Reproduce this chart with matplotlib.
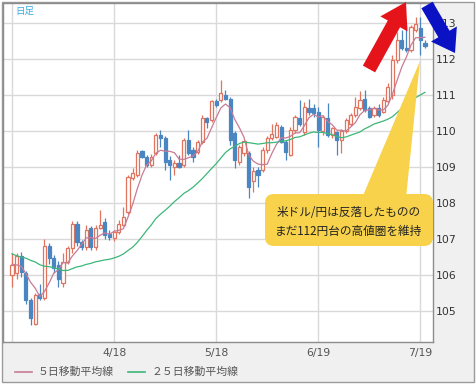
import matplotlib
matplotlib.use('Agg')
import matplotlib.pyplot as plt
import numpy as np
import pandas as pd
from matplotlib.patches import Rectangle, FancyBboxPatch, Polygon, FancyArrow
from matplotlib.lines import Line2D

# ---- data (USD/JPY daily candles, 2018-03-19 .. 2018-07-20) ----
opens = [106.00, 106.06, 106.53, 106.06, 105.31, 104.65, 105.47, 105.36, 106.80, 106.47,
         106.28, 105.77, 106.37, 106.74, 107.43, 106.93, 106.79, 107.30, 106.79, 107.30,
         107.48, 107.15, 107.02, 107.20, 107.40, 107.76, 108.70, 108.78, 109.44, 109.29,
         109.06, 109.38, 109.89, 109.80, 109.19, 109.00, 109.10, 109.05, 109.75, 109.47,
         109.43, 109.70, 110.35, 110.30, 110.82, 110.86, 111.00, 110.90, 109.94, 109.15,
         109.38, 109.38, 108.60, 108.92, 108.92, 109.47, 109.80, 109.84, 110.12, 109.70,
         109.33, 110.03, 110.35, 109.98, 110.63, 110.63, 110.54, 110.00, 110.35, 109.89,
         109.98, 109.75, 110.00, 110.20, 110.44, 110.63, 110.90, 110.63, 110.44, 110.63,
         110.54, 110.82, 110.99, 111.97, 112.53, 112.30, 112.25, 112.80, 112.85, 112.45]
highs = [106.60, 106.62, 106.65, 106.12, 105.35, 105.50, 105.75, 107.00, 106.90, 106.55,
         106.40, 106.60, 106.80, 107.50, 107.50, 106.98, 107.40, 107.35, 107.40, 107.80,
         107.57, 107.25, 107.25, 107.52, 107.90, 108.78, 108.96, 109.47, 109.47, 109.33,
         109.35, 109.94, 110.03, 109.85, 109.30, 109.20, 109.33, 109.80, 110.03, 109.56,
         109.75, 110.44, 110.40, 110.86, 110.90, 111.42, 111.15, 110.95, 110.00, 109.60,
         109.75, 109.45, 109.00, 109.00, 109.55, 109.85, 110.20, 110.26, 110.17, 109.75,
         110.10, 110.45, 110.86, 110.80, 110.90, 110.75, 110.68, 110.45, 110.77, 110.10,
         110.00, 110.05, 110.35, 110.50, 110.95, 111.10, 111.13, 110.70, 110.70, 110.75,
         110.95, 111.33, 112.10, 112.75, 112.80, 112.95, 112.95, 113.18, 113.18, 112.53]
lows = [105.67, 105.90, 105.95, 105.20, 104.61, 104.60, 105.30, 105.30, 106.30, 106.05,
        105.68, 105.68, 106.30, 106.60, 106.80, 106.70, 106.70, 106.70, 106.70, 107.28,
        107.00, 106.97, 106.95, 107.15, 107.35, 107.70, 108.64, 108.73, 109.24, 109.00,
        109.00, 109.33, 109.55, 108.92, 108.64, 108.78, 108.98, 109.00, 109.33, 109.15,
        109.35, 109.65, 110.07, 110.25, 110.67, 110.80, 110.85, 109.60, 108.96, 109.05,
        109.30, 108.13, 108.30, 108.45, 108.85, 109.40, 109.75, 109.80, 109.66, 109.20,
        109.30, 109.95, 110.15, 109.90, 110.45, 110.40, 109.56, 109.90, 109.84, 109.80,
        109.33, 109.38, 109.95, 110.15, 110.40, 110.58, 110.54, 110.35, 110.38, 110.40,
        110.50, 110.77, 110.90, 111.90, 112.25, 112.20, 112.20, 112.75, 112.10, 112.30]
closes = [106.28, 106.53, 106.08, 105.31, 104.80, 105.45, 105.36, 106.80, 106.47, 106.19,
          105.90, 106.37, 106.74, 107.43, 106.93, 106.79, 107.25, 106.79, 107.30, 107.40,
          107.11, 107.06, 107.20, 107.43, 107.62, 108.73, 108.82, 109.38, 109.29, 109.06,
          109.29, 109.89, 109.80, 109.15, 109.05, 109.10, 109.00, 109.75, 109.38, 109.29,
          109.70, 110.35, 110.26, 110.82, 110.72, 111.05, 110.90, 109.75, 109.20, 109.56,
          109.72, 108.45, 108.90, 108.78, 109.47, 109.80, 109.93, 110.17, 109.70, 109.43,
          110.03, 110.40, 110.20, 110.68, 110.54, 110.50, 110.03, 110.38, 109.89, 110.07,
          109.75, 110.00, 110.30, 110.44, 110.67, 110.86, 110.58, 110.40, 110.63, 110.45,
          110.86, 111.23, 111.97, 112.53, 112.30, 112.25, 112.90, 112.98, 112.53, 112.36]
# closes before the first visible day (used only to warm up the moving averages)
prior_closes = [107.8, 107.0, 106.1, 106.3, 106.6, 107.3, 107.8, 106.8, 106.9, 106.9,
                107.3, 106.7, 106.2, 105.7, 106.2, 106.1, 106.1, 106.2, 106.8, 106.4,
                106.6, 106.3, 106.3, 106.0]
date_tick_pos = [0, 22, 44, 66, 88]
date_tick_labels = ['', '4/18', '5/18', '6/19', '7/19']
price_ticks = [105, 106, 107, 108, 109, 110, 111, 112, 113]
legend_labels = ['５日移動平均線', '２５日移動平均線']
callout_lines = ['米ドル/円は反落したものの', 'まだ112円台の高値圏を維持']
period_label = '日足'

JP = ['Noto Sans CJK JP', 'DejaVu Sans']
UP = '#e2735e'
DOWN = '#4a86c1'
MA5C = '#c97b96'
MA25C = '#3db67a'

W, H = 477, 385
fig = plt.figure(figsize=(W / 100, H / 100), dpi=100, facecolor='white')

bg = fig.add_axes([0, 0, 1, 1])
bg.set_xlim(0, W); bg.set_ylim(H, 0); bg.axis('off'); bg.set_zorder(0)
bg.add_patch(Rectangle((2, 2), 472, 380, facecolor='#f0f0f0', edgecolor='#9a9a9a', lw=1))

ax = fig.add_axes([3 / W, 1 - 342 / H, 430 / W, 339 / H])
ax.set_zorder(1)
ax.set_facecolor('white')

o = np.array(opens); h = np.array(highs); l = np.array(lows); c = np.array(closes)
idx = np.arange(len(c))
up = c >= o

allc = pd.Series(prior_closes + closes)
ma5 = allc.rolling(5).mean().to_numpy()[len(prior_closes):]
ma25 = allc.rolling(25).mean().to_numpy()[len(prior_closes):]

# wicks
ax.vlines(idx[up], l[up], h[up], color=UP, lw=0.9, zorder=2)
ax.vlines(idx[~up], l[~up], h[~up], color=DOWN, lw=0.9, zorder=2)
# bodies
bw = 0.68
hgt = np.maximum(np.abs(c - o), 0.02)
bot = np.minimum(o, c)
ax.bar(idx[up], hgt[up], bottom=bot[up], width=bw, facecolor='white', edgecolor=UP, lw=0.9, zorder=3)
ax.bar(idx[~up], hgt[~up], bottom=bot[~up], width=bw, facecolor=DOWN, edgecolor=DOWN, lw=0.9, zorder=3)

ax.plot(idx, ma5, color=MA5C, lw=0.9, zorder=4)
ax.plot(idx, ma25, color=MA25C, lw=0.9, zorder=4)

ax.set_xlim(-1.94, 90.73)
ax.set_ylim(104.139, 113.556)
ax.set_xticks(date_tick_pos)
ax.set_xticklabels(date_tick_labels)
ax.set_yticks(price_ticks)
ax.yaxis.tick_right()
ax.grid(True, color='#d9d9d9', lw=1)
ax.set_axisbelow(True)
ax.tick_params(axis='y', length=0, pad=2, labelsize=7.8, labelcolor='#333333')
ax.tick_params(axis='x', length=0, pad=4, labelsize=7.8, labelcolor='#555555')
for s in ax.spines.values():
    s.set_color('#8c8c8c'); s.set_linewidth(1)

# overlay in pixel coordinates
ov = fig.add_axes([0, 0, 1, 1])
ov.set_xlim(0, W); ov.set_ylim(H, 0); ov.axis('off'); ov.set_zorder(3)
ov.patch.set_alpha(0)

ov.text(15, 11, period_label, fontsize=6.8, color='#3aa9e0', family=JP, va='center', ha='left')

# legend
ov.add_line(Line2D([15, 32], [372, 372], color=MA5C, lw=1.2))
ov.text(38, 372, legend_labels[0], fontsize=7.8, color='#555555', family=JP, va='center', ha='left')
ov.add_line(Line2D([128, 145], [372, 372], color=MA25C, lw=1.2))
ov.text(152, 372, legend_labels[1], fontsize=7.8, color='#555555', family=JP, va='center', ha='left')

# callout
YEL = '#f7d24a'
ov.add_patch(Polygon([(362, 198), (406, 198), (420, 61)], closed=True, facecolor=YEL, edgecolor='none'))
ov.add_patch(FancyBboxPatch((265, 194), 168, 52, boxstyle='round,pad=0,rounding_size=9',
                            facecolor=YEL, edgecolor='none'))
ov.text(349, 212, callout_lines[0], fontsize=8.4, color='#222222', family=JP, ha='center', va='center')
ov.text(349, 231, callout_lines[1], fontsize=8.4, color='#222222', family=JP, ha='center', va='center')

# arrows
ov.add_patch(FancyArrow(369, 69, 37, -67, width=14, head_width=31, head_length=25,
                        length_includes_head=True, facecolor='#e5141b', edgecolor='none'))
ov.add_patch(FancyArrow(427, 5, 28, 48, width=13, head_width=30, head_length=22,
                        length_includes_head=True, facecolor='#0b12c4', edgecolor='none'))

fig.savefig('out.png', dpi=100, facecolor=fig.get_facecolor())
